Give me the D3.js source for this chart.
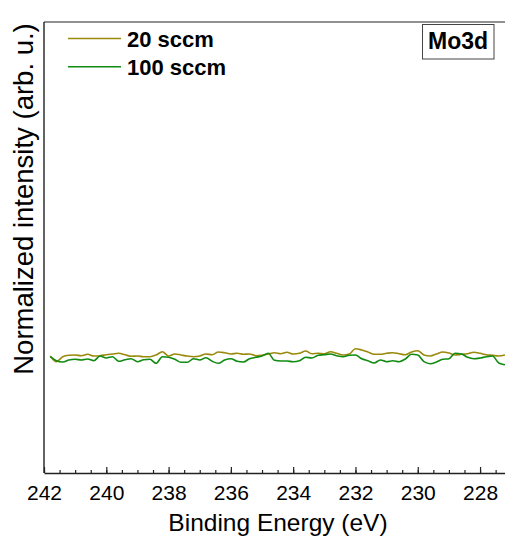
<!DOCTYPE html>
<html>
<head>
  <meta charset="utf-8">
  <style>
    body { margin: 0; background: #fff; }
    text { font-family: "Liberation Sans", Arial, sans-serif; }
  </style>
  <title>Mo3d</title>
</head>
<body>
  <script src="https://cdn.jsdelivr.net/npm/d3@7"></script>
  <script>
    // data (binding energy grid, step 0.2 eV)
    var energy = d3.range(74).map(function (i) { return +(241.8 - 0.2 * i).toFixed(1); });

    var sccm20 = [117.0, 111.3, 116.3, 117.7, 118.0, 117.3, 118.7, 117.0, 117.3, 118.3,
                  119.0, 119.7, 118.3, 116.7, 117.0, 116.3, 116.3, 118.0, 121.3, 117.0,
                  119.0, 118.0, 117.0, 116.3, 117.0, 119.0, 118.3, 121.0, 120.3, 119.0,
                  119.7, 118.7, 119.0, 117.3, 117.7, 119.0, 120.3,
                  119.3, 120.7, 119.0, 119.7, 122.0, 119.3, 119.7, 119.3, 121.3, 119.7,
                  118.0, 119.0, 124.3, 123.0, 121.0, 118.7, 118.7, 119.7, 120.3, 119.3,
                  118.3, 121.0, 122.3, 118.0, 117.0, 119.0, 121.0, 120.0, 118.0, 118.7,
                  119.3, 120.7, 119.7, 118.3, 117.7, 117.0, 118.0];

    var sccm100 = [116.3, 112.3, 111.0, 113.0, 113.7, 113.0, 114.0, 112.3, 117.0, 115.0,
                   116.3, 111.7, 113.3, 114.3, 111.3, 113.3, 113.7, 109.7, 116.3, 115.7,
                   113.7, 110.7, 110.7, 114.3, 113.0, 115.3, 111.7, 109.7, 113.0, 114.3,
                   111.7, 111.0, 114.3, 115.7, 117.0, 119.7, 112.7,
                   112.0, 112.0, 111.3, 112.3, 115.7, 115.0, 117.7, 118.3, 119.0, 117.3,
                   116.3, 117.7, 118.0, 114.3, 112.3, 110.0, 113.0, 111.3, 112.3, 111.3,
                   114.0, 118.7, 118.0, 111.3, 109.3, 111.0, 113.7, 114.3, 119.7, 119.0,
                   115.7, 114.3, 115.0, 116.3, 117.0, 110.0, 108.3];

    var seriesNames = ["20 sccm", "100 sccm"];
    var seriesValues = [sccm20, sccm100];
    var colors = ["#9a8a0c", "#108a10"];

    var majorTicks = [242, 240, 238, 236, 234, 232, 230, 228];
    var minorTicks = d3.range(242, 227, -0.5);

    var width = 505, height = 538;
    // plot box (right edge falls just outside the picture)
    var pLeft = 44, pTop = 22, pBottom = 473, pRight = 507;

    var x = d3.scaleLinear().domain([242, 227.135]).range([pLeft, pRight]);
    var y = d3.scaleLinear().domain([0, 451]).range([pBottom, pTop]);

    var svg = d3.select("body").append("svg")
      .attr("width", width)
      .attr("height", height);

    svg.append("defs").append("clipPath").attr("id", "plotclip")
      .append("rect")
      .attr("x", pLeft).attr("y", pTop)
      .attr("width", pRight - pLeft).attr("height", pBottom - pTop);

    // lines
    var line = d3.line()
      .x(function (d) { return x(d[0]); })
      .y(function (d) { return y(d[1]); })
      .curve(d3.curveMonotoneX);

    seriesValues.forEach(function (vals, i) {
      svg.append("path")
        .datum(energy.map(function (e, j) { return [e, vals[j]]; }))
        .attr("clip-path", "url(#plotclip)")
        .attr("fill", "none")
        .attr("stroke", colors[i])
        .attr("stroke-width", 1.6)
        .attr("d", line);
    });

    // frame
    svg.append("line").attr("x1", pLeft).attr("x2", pLeft).attr("y1", pTop).attr("y2", pBottom)
      .attr("stroke", "#222").attr("stroke-width", 1.4);
    svg.append("line").attr("x1", pLeft).attr("x2", pRight).attr("y1", pTop).attr("y2", pTop)
      .attr("stroke", "#222").attr("stroke-width", 1.2);

    // x axis, ticks inside
    svg.append("g")
      .attr("transform", "translate(0," + pBottom + ")")
      .call(d3.axisBottom(x).tickValues(minorTicks).tickSizeInner(-3).tickSizeOuter(0).tickFormat(""))
      .call(function (g) { g.select(".domain").remove(); })
      .selectAll("line").attr("stroke", "#222").attr("stroke-width", 1.2);

    var xAxis = svg.append("g")
      .attr("transform", "translate(0," + pBottom + ")")
      .call(d3.axisBottom(x).tickValues(majorTicks).tickSizeInner(-6).tickSizeOuter(0).tickPadding(12));
    xAxis.select(".domain").attr("stroke", "#222").attr("stroke-width", 1.6);
    xAxis.selectAll(".tick line").attr("stroke", "#222").attr("stroke-width", 1.2);
    xAxis.selectAll("text")
      .attr("fill", "#000")
      .style("font-size", "21px")
      .style("font-family", "Liberation Sans, Arial, sans-serif");

    // axis titles
    svg.append("text")
      .attr("x", 278).attr("y", 531)
      .attr("text-anchor", "middle")
      .style("font-size", "24.5px")
      .text("Binding Energy (eV)");

    svg.append("text")
      .attr("transform", "translate(33,199) rotate(-90)")
      .attr("text-anchor", "middle")
      .style("font-size", "27.5px")
      .text("Normalized intensity (arb. u.)");

    // legend
    var legend = svg.append("g");
    seriesNames.forEach(function (name, i) {
      var ly = 38.5 + i * 28.3;
      legend.append("line")
        .attr("x1", 68).attr("x2", 121).attr("y1", ly).attr("y2", ly)
        .attr("stroke", colors[i]).attr("stroke-width", 1.6);
      legend.append("text")
        .attr("x", 127).attr("y", ly + 8.3)
        .style("font-size", "22px").style("font-weight", "bold")
        .text(name);
    });

    // panel label
    svg.append("rect")
      .attr("x", 422.5).attr("y", 24.5).attr("width", 71.5).attr("height", 34.5)
      .attr("fill", "#fff").attr("stroke", "#444").attr("stroke-width", 1);
    svg.append("text")
      .attr("x", 458).attr("y", 49)
      .attr("text-anchor", "middle")
      .style("font-size", "23px").style("font-weight", "bold")
      .text("Mo3d");
  </script>
</body>
</html>
